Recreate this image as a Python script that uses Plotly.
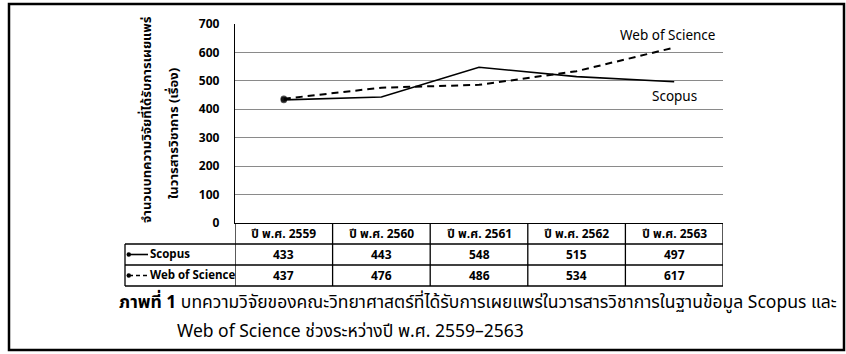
import plotly.graph_objects as go

# ---------------- data ----------------
years = ["ปี พ.ศ. 2559", "ปี พ.ศ. 2560", "ปี พ.ศ. 2561", "ปี พ.ศ. 2562", "ปี พ.ศ. 2563"]
scopus = [433, 443, 548, 515, 497]
wos = [437, 476, 486, 534, 617]
series_names = ["Scopus", "Web of Science"]
y_ticks = [0, 100, 200, 300, 400, 500, 600, 700]
y_title_1 = "จำนวนบทความวิจัยที่ได้รับการเผยแพร่"
y_title_2 = "ในวารสารวิชาการ (เรื่อง)"
caption_bold = "ภาพที่ 1"
caption_1 = " บทความวิจัยของคณะวิทยาศาสตร์ที่ได้รับการเผยแพร่ในวารสารวิชาการในฐานข้อมูล Scopus และ"
caption_2 = "Web of Science ช่วงระหว่างปี พ.ศ. 2559–2563"

# ---------------- layout geometry (pixels) ----------------
W, H = 846, 354
L, R, T, B = 235, 723, 24, 223
ROW_H = 21
LEG_L = 125
FONT = "Tahoma, 'Noto Sans Thai', 'Noto Sans', 'Open Sans', sans-serif"


def px(xp):
    return (xp - L) / (R - L)


def py(yp):
    return (B - yp) / (B - T)


x_idx = list(range(len(years)))

fig = go.Figure()
fig.add_trace(go.Scatter(
    x=x_idx, y=scopus, mode="lines+markers", name=series_names[0],
    line=dict(color="black", width=1.6),
    marker=dict(size=[6.5, 0, 0, 0, 0], color="black", line=dict(width=0)),
    showlegend=False, hoverinfo="skip"))
fig.add_trace(go.Scatter(
    x=x_idx, y=wos, mode="lines+markers", name=series_names[1],
    line=dict(color="black", width=2, dash="7px,5px"),
    marker=dict(size=[6.5, 0, 0, 0, 0], color="black", line=dict(width=0)),
    showlegend=False, hoverinfo="skip"))

shapes = []
ann = []
LINE = dict(color="black", width=1.3)


def text(x, y, s, size, xref="paper", xanchor="center", angle=0):
    ann.append(dict(x=x, y=y, xref=xref, yref="paper", text=s, showarrow=False,
                    xanchor=xanchor, yanchor="middle", textangle=angle,
                    font=dict(family=FONT, size=size, color="black")))


# outer frame
shapes.append(dict(type="rect", xref="paper", yref="paper",
                   x0=px(9), x1=px(844), y0=py(4), y1=py(350),
                   line=dict(color="black", width=2.5)))

# table rows
n = len(years)
for k in range(1, 4):
    yy = B + k * ROW_H
    shapes.append(dict(type="line", xref="paper", yref="paper",
                       x0=px(LEG_L), x1=1, y0=py(yy), y1=py(yy), line=LINE))
# table vertical lines
for i in range(n + 1):
    shapes.append(dict(type="line", xref="x", yref="paper",
                       x0=i - 0.5, x1=i - 0.5, y0=0, y1=py(B + 3 * ROW_H), line=LINE))
shapes.append(dict(type="line", xref="paper", yref="paper",
                   x0=px(LEG_L), x1=px(LEG_L), y0=py(B + ROW_H), y1=py(B + 3 * ROW_H), line=LINE))

for i, lab in enumerate(years):
    text(i, py(B + ROW_H / 2), "<b>" + lab + "</b>", 12, xref="x")
    text(i, py(B + 1.5 * ROW_H), "<b>" + str(scopus[i]) + "</b>", 12, xref="x")
    text(i, py(B + 2.5 * ROW_H), "<b>" + str(wos[i]) + "</b>", 12, xref="x")

# legend keys inside table
for k, name in enumerate(series_names):
    yc = B + (1.5 + k) * ROW_H
    shapes.append(dict(type="circle", xref="paper", yref="paper",
                       x0=px(LEG_L + 1.5), x1=px(LEG_L + 6), y0=py(yc - 2.3), y1=py(yc + 2.3),
                       fillcolor="black", line=dict(color="black", width=0)))
    shapes.append(dict(type="line", xref="paper", yref="paper",
                       x0=px(LEG_L + 4), x1=px(LEG_L + 23), y0=py(yc), y1=py(yc),
                       line=dict(color="black", width=1.6, dash="solid" if k == 0 else "4px,3px")))
    text(px(LEG_L + 23), py(yc), "<b>" + name + "</b>", 11.5, xanchor="left")

# series labels
text(px(618), py(36), series_names[1], 13.5, xanchor="left")
text(px(650), py(97), series_names[0], 13.5, xanchor="left")

# y-axis title (two rotated lines)
text(px(147), py(120), "<b>" + y_title_1 + "</b>", 13, angle=-90)
text(px(174), py(134), "<b>" + y_title_2 + "</b>", 13, angle=-90)

# caption
text(px(117), py(302), "<b>" + caption_bold + "</b>" + caption_1, 17.5, xanchor="left")
text(px(175), py(331), caption_2, 17.5, xanchor="left")

fig.update_layout(
    width=W, height=H,
    margin=dict(l=L, r=W - R, t=T, b=H - B, pad=0),
    paper_bgcolor="white", plot_bgcolor="white",
    shapes=shapes, annotations=ann,
    xaxis=dict(range=[-0.5, n - 0.5], showticklabels=False, showgrid=False, zeroline=False,
               showline=True, linecolor="black", linewidth=1.3, ticks=""),
    yaxis=dict(range=[0, 700], tickvals=y_ticks, ticktext=["<b>%d</b>" % v for v in y_ticks],
               showgrid=True, gridcolor="#8a8a8a", gridwidth=1.2, zeroline=False,
               showline=True, linecolor="black", linewidth=1.3, ticks="",
               ticklabelstandoff=12, tickfont=dict(family=FONT, size=12, color="black")),
)

fig.write_html("out.html", config={"displayModeBar": False},
               post_script="document.body.style.margin='0';document.body.style.overflow='hidden';")
